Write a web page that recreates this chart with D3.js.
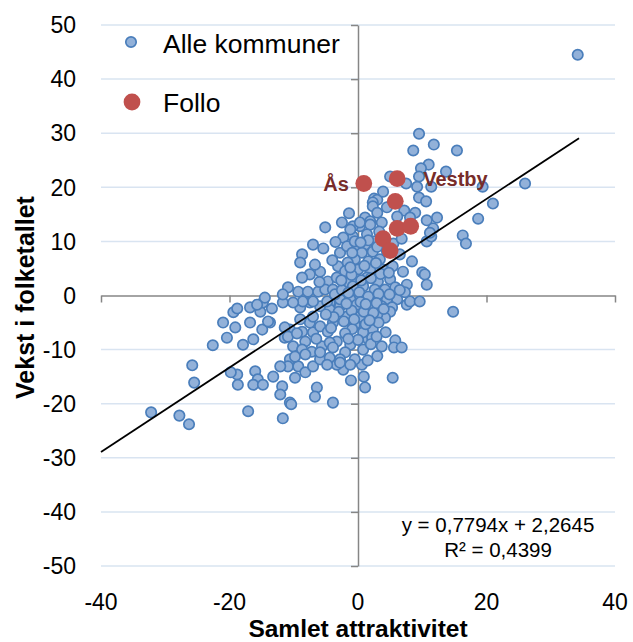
<!DOCTYPE html>
<html>
<head>
<meta charset="utf-8">
<script src="https://cdn.jsdelivr.net/npm/d3@7"></script>
<style>
  body { margin: 0; background: #fff; }
  text { font-family: "Liberation Sans", Arial, Helvetica, sans-serif; }
</style>
</head>
<body>
<svg id="chart" width="633" height="642"></svg>
<script>
// Axis ticks
const xTicks = [-40, -20, 0, 20, 40];
const yTicks = [-50, -40, -30, -20, -10, 0, 10, 20, 30, 40, 50];

// All municipalities: [samlet attraktivitet, vekst i folketallet]
const kommuner = [
  [34.2,44.5],[9.5,29.9],[11.8,27.9],[8.6,26.8],[15.4,26.8],[11.0,24.2],[9.8,23.5],[13.7,22.9],
  [9.5,22.0],[9.2,20.1],[11.4,20.1],[19.4,20.1],[26.0,20.7],[5.0,22.0],[7.5,20.7],
  [2.5,17.9],[3.0,17.7],[3.9,19.2],[-1.4,15.2],[9.5,18.1],[10.6,17.4],[21.0,17.0],[18.7,14.2],
  [12.3,14.4],[10.7,13.9],[8.9,15.3],[7.2,15.7],[16.3,11.1],[16.8,9.6],[11.7,12.4],[10.7,10.0],
  [11.4,10.9],[2.3,17.2],[4.5,16.3],[6.1,14.6],[8.1,14.4],
  [-5.1,12.6],[2.3,16.5],[1.1,14.4],[1.9,13.7],[0.3,12.8],[3.0,15.3],
  [-0.8,12.8],[0.3,13.5],[1.9,13.1],[3.7,13.5],
  [-0.8,10.9],[1.4,11.3],[1.1,9.4],[-0.2,8.9],[2.6,10.0],[11.2,11.6],
  [0.6,7.9],[2.3,8.1],[-0.5,6.7],[1.6,6.3],[3.4,6.7],[6.5,7.6],[8.4,6.3],
  [0.0,4.8],[1.9,4.8],[3.9,4.8],[5.4,5.4],[7.0,4.4],[10.0,4.3],[10.4,3.9],[10.7,2.0],
  [-0.2,3.0],[1.4,3.3],[3.1,2.6],[5.0,3.0],[7.6,2.0],[5.8,1.5],
  [0.8,1.7],[2.6,1.1],[4.2,1.1],
  [-0.8,-0.2],[0.8,-0.7],[2.6,-0.7],[4.5,-0.7],[6.1,-0.7],[7.6,-1.7],[8.1,-1.1],[9.6,-1.1],
  [-0.2,-2.2],[1.9,-2.2],[3.7,-2.0],[5.3,-2.2],
  [7.3,0.6],[14.8,-3.0],[5.0,-3.0],[4.2,-4.1],[3.0,-3.5],
  [0.3,-3.9],[-0.5,-5.4],[2.3,-6.3],
  [5.8,-8.3],[5.6,-9.6],[6.8,-9.6],[3.7,-9.4],
  [1.6,-8.1],[2.2,-7.8],[0.8,-10.0],[-1.2,-9.1],[0.6,-12.8],
  [-2.0,-10.5],[-0.5,-11.8],[-2.3,-13.7],[-1.1,-15.7],
  [0.9,-15.0],[1.1,-17.0],[5.4,-15.2],
  [-3.6,-2.2],[-1.7,-3.9],[0.8,-6.8],[-3.3,-8.5],[-2.8,-11.8],[-3.9,-19.8],
  [-19.4,-3.1],[-16.8,-2.2],[-15.2,-3.0],[-13.4,-2.4],[-14.8,-1.3],[-18.8,-2.4],
  [-19.1,-5.9],[-16.8,-5.0],[-14.9,-6.3],[-13.7,-5.0],[-16.3,-8.1],[-17.9,-9.1],
  [-11.7,-1.3],[-9.0,-2.2],[-7.5,-1.3],[-5.9,-2.0],[-4.4,-1.3],
  [-10.6,-6.3],[-8.7,-6.7],[-8.2,-8.5],[-7.0,-6.8],[-5.9,-5.7],[-4.7,-6.7],[-3.9,-5.0],[-7.5,-5.0],
  [-11.4,-7.8],[-10.1,-9.4],[-8.7,-10.0],[-7.2,-10.4],[-5.6,-9.4],[-4.4,-8.7],
  [-10.6,-11.8],[-10.9,-13.1],[-12.1,-13.1],[-9.3,-13.1],[-8.2,-14.2],[-7.0,-13.1],
  [-5.9,-11.8],[-4.4,-11.5],[-3.3,-12.8],
  [-16.0,-14.0],[-15.6,-15.5],[-16.3,-16.5],[-14.8,-16.5],[-13.2,-15.0],[-18.8,-14.6],[-18.7,-16.5],
  [-11.8,-16.8],[-12.1,-18.3],[-9.8,-15.2],[-6.4,-17.0],[-6.7,-18.7],[-10.6,-19.8],[-17.1,-21.4],
  [-7.0,9.4],[-5.4,8.7],[-8.7,7.6],[-9.0,6.1],[-7.5,3.9],[-8.7,3.3],[-5.9,4.4],
  [-10.9,1.5],[-9.3,0.7],[-11.7,0.2],[-14.5,-0.4],[-15.7,-1.7],
  [-14.0,-4.8],[-21.0,-5.0],[-20.4,-7.8],[-22.6,-9.2],[-11.4,-5.9],[-10.9,-7.6],
  [-25.8,-12.9],[-25.5,-16.1],[-32.2,-21.6],[-27.8,-22.2],[-26.3,-23.8],
  [-19.8,-14.2],[-10.4,-20.1],[-11.7,-22.7],
  [-4.8,-12.8],[-2.8,-12.4],[-9.8,-11.3],[-8.2,-10.9],[-5.9,-10.5],[-3.9,-9.6],
  [-9.0,-4.4],[-7.0,-3.9],[-4.4,-2.6],[-2.8,-2.0],
  [-2.3,10.7],[-1.2,12.2],[-2.8,7.9],[-1.7,9.1],[-0.9,7.9],[-3.1,5.4],[-1.6,6.1],
  [-4.7,2.6],[-3.3,3.3],[-1.7,2.4],[-0.8,1.7],
  [-7.8,0.7],[-6.2,0.7],[-5.1,1.1],[-3.9,1.1],
  [-4.8,-1.1],[-7.0,-1.1],[-8.6,-1.1],[-10.1,-1.3],
  [-2.8,-0.7],[-1.2,-0.7],[-0.2,-1.7],[-3.6,0.2],[-6.7,5.7],
  [-2.0,4.5],[-1.0,3.8],[0.5,2.8],[2.0,3.2],[3.5,4.0],[4.8,4.2],[-2.5,1.0],[-1.5,0.5],
  [0.2,0.6],[1.6,-0.2],[3.2,0.3],[4.9,0.2],[-3.0,-3.0],[-1.0,-2.8],[0.9,-3.0],[2.4,-3.2],
  [-2.2,-4.8],[-0.9,-6.2],[1.2,-5.3],[3.2,-5.0],[-2.0,-7.0],[0.0,-8.2],[-1.5,-8.0],[4.3,-6.8],
  [3.0,-11.2],[1.5,-12.0],[-1.2,-12.8],[2.8,6.0],[4.5,8.2],[5.5,9.6],[3.3,11.8],[-3.5,9.9],
  [-2.5,13.5],[6.8,10.5],
  [-1.8,-1.5],[0.4,-1.2],[2.9,-1.4],[1.0,5.5],[-0.5,10.0],[1.6,10.2],[3.0,9.0],[-3.8,-4.0],
  [-5.0,-3.5],[-6.5,-8.0],[-9.5,-7.0],[2.0,-9.0],[4.0,-2.5],[6.5,1.0],[-6.0,2.5],[-4.0,6.5],
  [-1.2,5.2],[0.4,9.8],[-2.6,2.8],[1.2,-1.6],[-0.6,-4.4],[1.8,-4.6],[-4.2,-6.0],[2.9,-7.6]
];

// Follo municipalities
const folloNavn = ["Ås", "Vestby", "", "", "", "", ""];
const folloX = [0.9, 6.1, 5.8, 6.1, 8.2, 3.9, 5.0];
const folloY = [20.7, 21.6, 17.4, 12.4, 12.8, 10.5, 8.3];

// Linear trend line
const slope = 0.7794, intercept = 2.2645, rSquared = 0.4399;
const trendFrom = -40, trendTo = 34.4;

const svg = d3.select("#chart");
const x = d3.scaleLinear().domain([-40, 40]).range([101, 615]);
const y = d3.scaleLinear().domain([-50, 50]).range([566, 25]);

const axisColor = "#868686";
const gridColor = "#d9e4f1";

// Horizontal gridlines
svg.append("g").selectAll("line")
  .data(yTicks.filter(d => d !== 0))
  .join("line")
  .attr("x1", x(-40)).attr("x2", x(40))
  .attr("y1", d => y(d)).attr("y2", d => y(d))
  .attr("stroke", gridColor).attr("stroke-width", 1.5);

// Axes crossing at the origin
const yAxis = svg.append("g")
  .attr("transform", `translate(${x(0)},0)`)
  .call(d3.axisLeft(y).tickValues(yTicks).tickSize(7).tickSizeOuter(0).tickFormat(""));
const xAxis = svg.append("g")
  .attr("transform", `translate(0,${y(0)})`)
  .call(d3.axisBottom(x).tickValues(xTicks).tickSize(7).tickSizeOuter(0).tickFormat(""));
[yAxis, xAxis].forEach(g => {
  g.selectAll("path,line").attr("stroke", axisColor).attr("stroke-width", 1.5);
});

// Tick labels at the chart edges
svg.append("g").selectAll("text")
  .data(yTicks).join("text")
  .attr("x", 76).attr("y", d => y(d))
  .attr("dy", "0.36em")
  .attr("text-anchor", "end")
  .attr("font-size", 23).attr("fill", "#000")
  .text(d => String(d));
svg.append("g").selectAll("text")
  .data(xTicks).join("text")
  .attr("x", d => x(d)).attr("y", 602)
  .attr("dy", "0.36em")
  .attr("text-anchor", "middle")
  .attr("font-size", 23).attr("fill", "#000")
  .text(d => String(d));

// Axis titles
svg.append("text")
  .attr("x", x(0)).attr("y", 637)
  .attr("text-anchor", "middle")
  .attr("font-size", 24.5).attr("font-weight", "bold")
  .text("Samlet attraktivitet");
svg.append("text")
  .attr("transform", `translate(34,${y(0) + 2}) rotate(-90)`)
  .attr("text-anchor", "middle")
  .attr("font-size", 25).attr("font-weight", "bold")
  .text("Vekst i folketallet");

// All municipalities
svg.append("g").selectAll("circle")
  .data(kommuner).join("circle")
  .attr("cx", d => x(d[0])).attr("cy", d => y(d[1]))
  .attr("r", 5.2)
  .attr("fill", "#92b1d9").attr("stroke", "#4a7ebb").attr("stroke-width", 1.7);

// Follo
const follo = folloX.map((v, i) => ({ navn: folloNavn[i], x: v, y: folloY[i] }));
svg.append("g").selectAll("circle")
  .data(follo).join("circle")
  .attr("cx", d => x(d.x)).attr("cy", d => y(d.y))
  .attr("r", 8.4)
  .attr("fill", "#c0504d");

// Trend line
svg.append("line")
  .attr("x1", x(trendFrom)).attr("y1", y(slope * trendFrom + intercept))
  .attr("x2", x(trendTo)).attr("y2", y(slope * trendTo + intercept))
  .attr("stroke", "#000").attr("stroke-width", 1.8);

// Follo labels
const labelColor = "#772c2a";
svg.append("text")
  .attr("x", x(follo[0].x) - 15).attr("y", y(follo[0].y))
  .attr("dy", "0.36em")
  .attr("text-anchor", "end")
  .attr("font-size", 20).attr("font-weight", "bold").attr("fill", labelColor)
  .text(follo[0].navn);
svg.append("text")
  .attr("x", x(follo[1].x) + 26).attr("y", y(follo[1].y))
  .attr("dy", "0.36em")
  .attr("text-anchor", "start")
  .attr("font-size", 20).attr("font-weight", "bold").attr("fill", labelColor)
  .text(follo[1].navn);

// Regression equation
const fmt = v => d3.format(".4f")(v).replace(".", ",");
svg.append("text")
  .attr("x", 498).attr("y", 532)
  .attr("text-anchor", "middle").attr("font-size", 20.5)
  .text(`y = ${fmt(slope)}x + ${fmt(intercept)}`);
svg.append("text")
  .attr("x", 498).attr("y", 557)
  .attr("text-anchor", "middle").attr("font-size", 20.5)
  .text(`R² = ${fmt(rSquared)}`);

// Legend
const legend = svg.append("g");
legend.append("circle")
  .attr("cx", 131).attr("cy", 42).attr("r", 5.2)
  .attr("fill", "#92b1d9").attr("stroke", "#4a7ebb").attr("stroke-width", 1.7);
legend.append("text")
  .attr("x", 163).attr("y", 53)
  .attr("font-size", 26.5).text("Alle kommuner");
legend.append("circle")
  .attr("cx", 132).attr("cy", 102).attr("r", 8.4)
  .attr("fill", "#c0504d");
legend.append("text")
  .attr("x", 163).attr("y", 112)
  .attr("font-size", 26.5).text("Follo");
</script>
</body>
</html>
